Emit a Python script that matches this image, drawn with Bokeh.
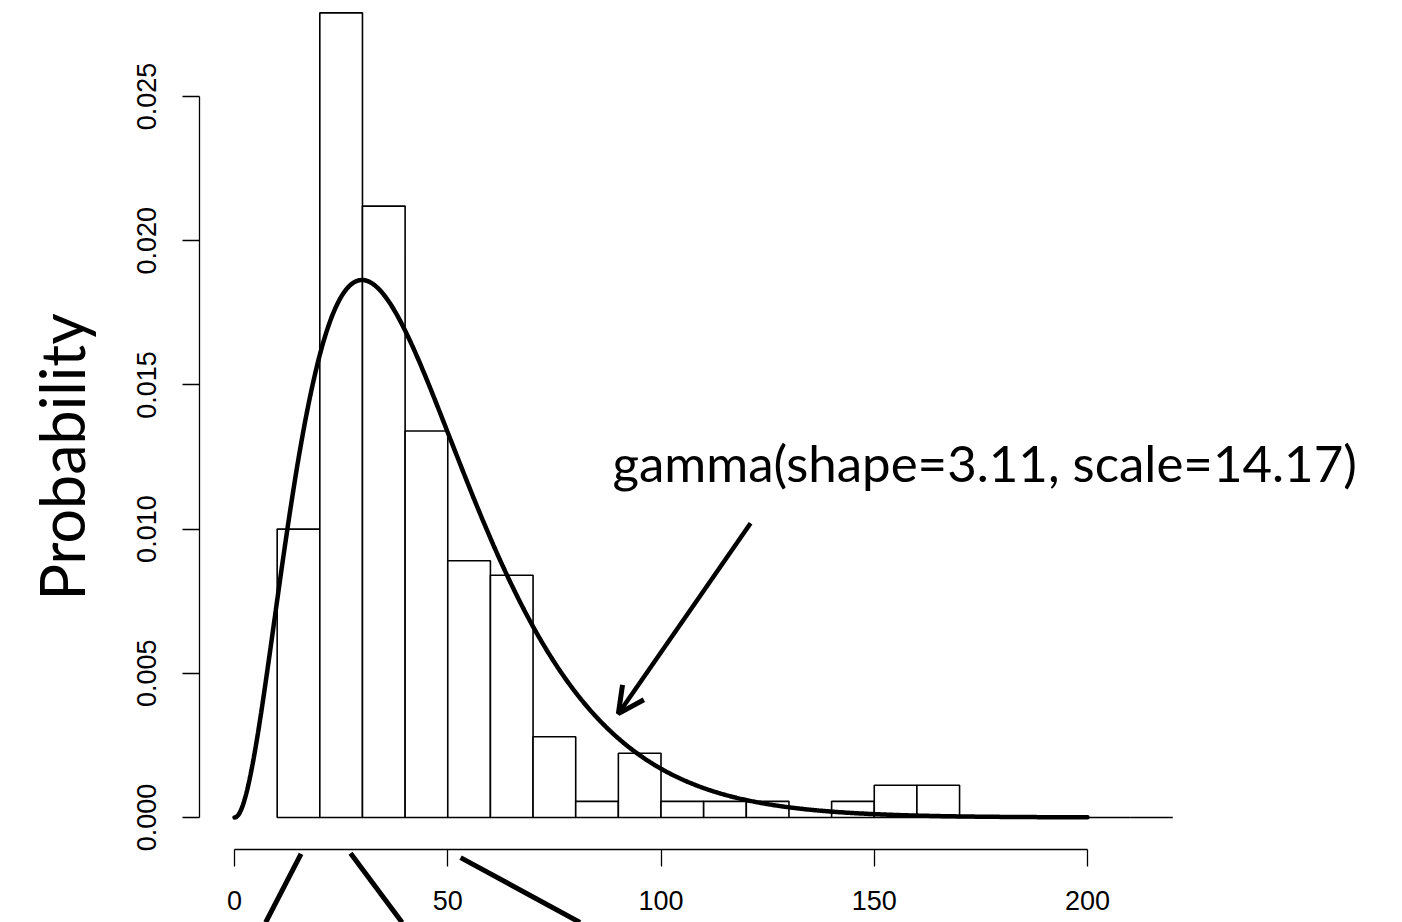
import numpy as np
from math import gamma as gamma_fn
from bokeh.plotting import figure
from bokeh.models import (Range1d, LinearAxis, FixedTicker, PrintfTickFormatter,
                          Arrow, OpenHead, ColumnDataSource)
from bokeh.core.properties import value
from bokeh.embed import file_html
from bokeh.resources import INLINE

# ---- data ----
bin_edges = [10, 20, 30, 40, 50, 60, 70, 80, 90, 100, 110, 120, 130,
             140, 150, 160, 170, 180, 190, 200, 210, 220]
density = [0.0100, 0.0279, 0.0212, 0.0134, 0.0089, 0.0084, 0.0028, 0.00056,
           0.00223, 0.00056, 0.00056, 0.00056, 0.0, 0.00056, 0.00112, 0.00112,
           0.0, 0.0, 0.0, 0.0, 0.0]
gamma_shape = 3.11
gamma_scale = 14.17
y_ticks = [0.0, 0.005, 0.010, 0.015, 0.020, 0.025]
x_ticks = [0, 50, 100, 150, 200]
annotation_text = "gamma(shape=3.11, scale=14.17)"
arrow_start = (121.0, 0.0102)
arrow_end = (90.0, 0.0036)
# stray line segments at the bottom edge (cut-off strokes)
stray_x0 = [15.6, 27.2, 53.0]
stray_y0 = [-0.00126, -0.00124, -0.00139]
stray_x1 = [7.3, 39.3, 81.0]
stray_y1 = [-0.00364, -0.00364, -0.00364]

# ---- gamma density curve from the stated parameters ----
cx = np.linspace(0, 200, 801)
cy = cx ** (gamma_shape - 1) * np.exp(-cx / gamma_scale) / (gamma_fn(gamma_shape) * gamma_scale ** gamma_shape)

W, H = 1394, 922
p = figure(width=W, height=H, output_backend="svg", toolbar_location=None,
           x_axis_type=None, y_axis_type=None,
           x_range=Range1d(-54.87, 271.98), y_range=Range1d(-0.003641, 0.028329),
           min_border=0)
p.outline_line_color = None
p.background_fill_color = "white"
p.border_fill_color = "white"

src = ColumnDataSource(dict(left=bin_edges[:-1], right=bin_edges[1:], top=density))
p.quad(left="left", right="right", top="top", bottom=0, source=src,
       fill_color="white", line_color="black", line_width=1.6)

p.line(cx, cy, line_color="black", line_width=4.5, line_cap="round")

p.segment(x0=stray_x0, y0=stray_y0, x1=stray_x1, y1=stray_y1,
          line_color="black", line_width=5)

p.add_layout(Arrow(end=OpenHead(size=26, line_width=5, line_color="black"),
                   x_start=arrow_start[0], y_start=arrow_start[1],
                   x_end=arrow_end[0], y_end=arrow_end[1],
                   line_width=4.5, line_color="black"))

p.text(x=[88.6], y=[0.01231], text=[annotation_text], text_font=value("Lato"),
       text_font_size="51px", text_align="left", text_baseline="middle",
       text_color="black")

yaxis = LinearAxis(fixed_location=-8.206, bounds=(0, 0.025),
                   ticker=FixedTicker(ticks=y_ticks),
                   formatter=PrintfTickFormatter(format="%.3f"))
yaxis.major_label_orientation = "parallel"
yaxis.major_tick_out = 17
yaxis.major_tick_in = 0
yaxis.minor_tick_out = 0
yaxis.minor_tick_in = 0
yaxis.axis_line_width = 1.3
yaxis.major_tick_line_width = 1.3
yaxis.major_label_text_font = "Liberation Sans"
yaxis.major_label_text_font_size = "27px"
yaxis.major_label_text_color = "black"
yaxis.major_label_standoff = 27
yaxis.axis_label = "Probability"
yaxis.axis_label_text_font = "Lato"
yaxis.axis_label_text_font_size = "61px"
yaxis.axis_label_text_font_style = "normal"
yaxis.axis_label_text_color = "black"
yaxis.axis_label_standoff = 36
p.add_layout(yaxis, "left")

xaxis = LinearAxis(fixed_location=-0.00112, bounds=(0, 200),
                   ticker=FixedTicker(ticks=x_ticks))
xaxis.major_tick_out = 17
xaxis.major_tick_in = 0
xaxis.minor_tick_out = 0
xaxis.minor_tick_in = 0
xaxis.axis_line_width = 1.3
xaxis.major_tick_line_width = 1.3
xaxis.major_label_text_font = "Liberation Sans"
xaxis.major_label_text_font_size = "27px"
xaxis.major_label_text_color = "black"
xaxis.major_label_standoff = 24
p.add_layout(xaxis, "below")

open("out.html", "w").write(file_html(p, INLINE))
